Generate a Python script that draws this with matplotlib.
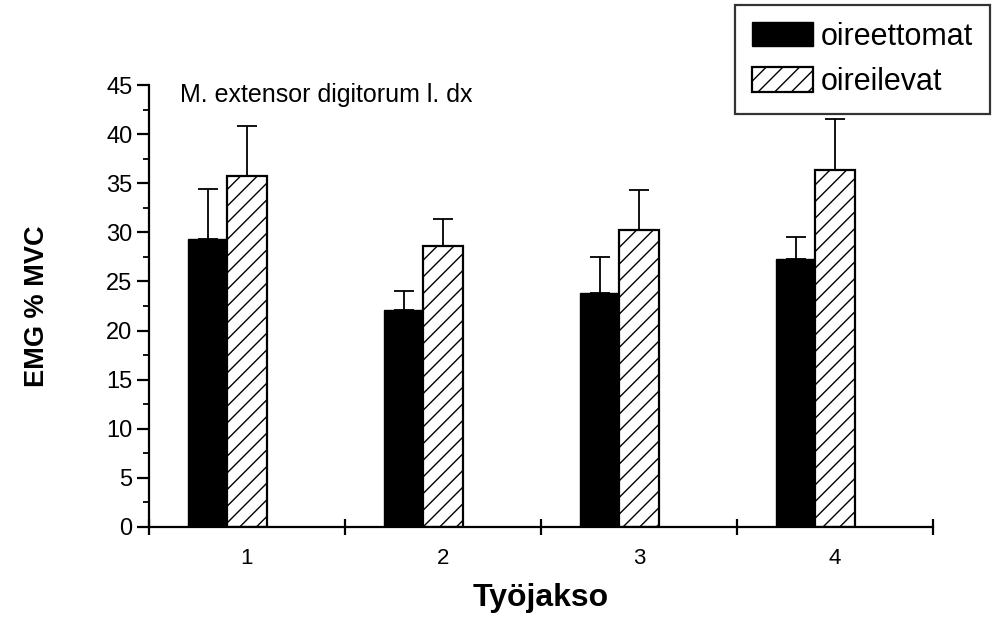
import numpy as np
import matplotlib.pyplot as plt
from matplotlib.ticker import MultipleLocator

plt.rcParams['font.family'] = ['Liberation Sans', 'DejaVu Sans']
plt.rcParams['hatch.linewidth'] = 1.0

jaksot = ['1', '2', '3', '4']
oireettomat = [29.3, 22.1, 23.8, 27.3]
oireettomat_sd = [5.1, 1.9, 3.7, 2.2]
oireilevat = [35.7, 28.6, 30.2, 36.3]
oireilevat_sd = [5.1, 2.8, 4.1, 5.2]

fig = plt.figure(figsize=(9.95, 6.17), dpi=100)
ax = fig.add_axes([0.1497, 0.1459, 0.7880, 0.7163])

x = np.arange(1, len(jaksot) + 1)
w = 0.2
err_kw = dict(ecolor='black', elinewidth=1.3, capsize=7, capthick=1.3)

ax.bar(x - w, oireettomat, w, color='black', edgecolor='black',
       yerr=[np.zeros(4), oireettomat_sd], error_kw=err_kw, label='oireettomat')
ax.bar(x, oireilevat, w, color='white', edgecolor='black', hatch='//',
       linewidth=1.6, yerr=[np.zeros(4), oireilevat_sd], error_kw=err_kw,
       label='oireilevat')

ax.set_xlim(0.5, 4.5)
ax.set_ylim(0, 45)
for s in ['top', 'right']:
    ax.spines[s].set_visible(False)
for s in ['left', 'bottom']:
    ax.spines[s].set_linewidth(1.6)

ax.set_xticks(x)
ax.set_xticklabels(jaksot, fontsize=16)
ax.set_xticks([0.5, 1.5, 2.5, 3.5, 4.5], minor=True)
ax.tick_params(axis='x', which='major', length=0, pad=15)
ax.tick_params(axis='x', which='minor', direction='inout', length=12, width=1.6)

ax.yaxis.set_major_locator(MultipleLocator(5))
ax.yaxis.set_minor_locator(MultipleLocator(2.5))
ax.tick_params(axis='y', which='major', direction='out', length=9, width=1.6,
               labelsize=17, pad=3)
ax.tick_params(axis='y', which='minor', direction='out', length=4, width=1.3)

ax.text(0.658, 44.0, 'M. extensor digitorum l. dx', fontsize=18, va='center')

ax.set_ylabel('EMG % MVC', fontsize=19.5, fontweight='bold', labelpad=40)
ax.set_xlabel('Työjakso', fontsize=23, fontweight='bold', labelpad=10)

leg = fig.legend(loc='upper right', bbox_to_anchor=(990 / 995, 1 - 5 / 617),
                 fontsize=22, frameon=True, fancybox=False, edgecolor='black',
                 handlelength=2.0, handleheight=0.85, borderpad=0.55,
                 labelspacing=0.5, handletextpad=0.25, borderaxespad=0)
leg.get_frame().set_linewidth(1.6)

fig.savefig('out.png', dpi=100)
